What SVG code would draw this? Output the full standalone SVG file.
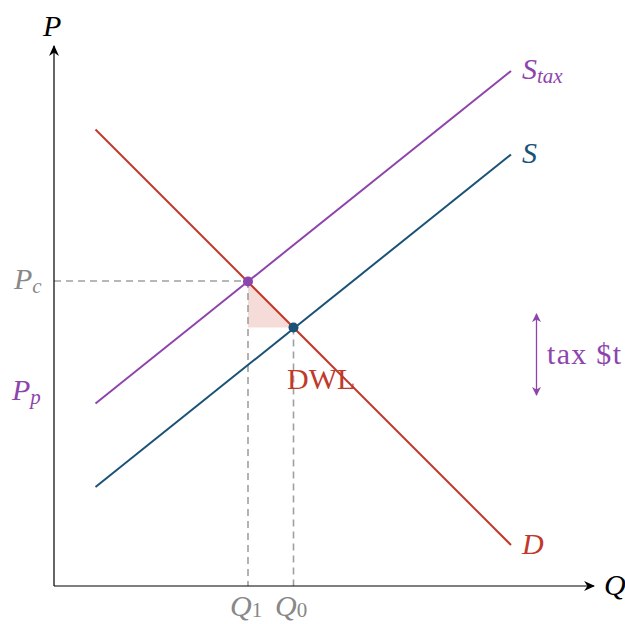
<svg xmlns="http://www.w3.org/2000/svg" width="625" height="624" viewBox="0 0 625 624">
<defs>
<style>
.lbl{font-family:"Liberation Serif","Times New Roman",serif;font-size:30px}
.it{font-style:italic}
.sub{font-size:21px}
.gray{fill:#888888}
.axis{stroke:#000;stroke-width:1.2;fill:none}
.dash{stroke:#a0a0a0;stroke-width:1.6;stroke-dasharray:7,5;fill:none}
</style>
<marker id="ah" viewBox="0 0 10 10" refX="9" refY="5" markerWidth="11" markerHeight="11" markerUnits="userSpaceOnUse" orient="auto-start-reverse">
<path d="M0,0.5 L10,5 L0,9.5 L3,5 Z" fill="#000"/>
</marker>
<marker id="ahp" viewBox="0 0 10 10" refX="9" refY="5" markerWidth="9" markerHeight="9" markerUnits="userSpaceOnUse" orient="auto-start-reverse">
<path d="M0,0 L10,5 L0,10 L3,5 Z" fill="#8e44ad"/>
</marker>
</defs>
<rect width="625" height="624" fill="#fff"/>
<g id="dwl"><polygon points="248,281 248,327.5 293.5,327.5" fill="#f5dcd9"/></g>
<g id="connectors">
<line class="dash" x1="54" y1="281" x2="248" y2="281"/>
<line class="dash" x1="248" y1="281" x2="248" y2="586"/>
<line class="dash" x1="293.5" y1="327.5" x2="293.5" y2="586"/>
<line class="axis" x1="54" y1="586" x2="54" y2="46" marker-end="url(#ah)"/>
<line class="axis" x1="54" y1="586" x2="594" y2="586" marker-end="url(#ah)"/>
<line x1="95.5" y1="129.5" x2="511" y2="545" stroke="#c0392b" stroke-width="2"/>
<line x1="95.5" y1="487" x2="511" y2="154.5" stroke="#1a5276" stroke-width="2"/>
<line x1="95.5" y1="403.5" x2="511" y2="71" stroke="#8e44ad" stroke-width="2"/>
<line x1="536.5" y1="314" x2="536.5" y2="395" stroke="#8e44ad" stroke-width="1.3" marker-start="url(#ahp)" marker-end="url(#ahp)"/>
</g>
<g id="points">
<circle cx="248" cy="281.5" r="5" fill="#8e44ad"/>
<circle cx="293.5" cy="327.5" r="5" fill="#1a5276"/>
</g>
<g id="labels">
<text class="lbl it" x="43" y="36">P</text>
<text class="lbl it" x="604" y="595">Q</text>
<text class="lbl it" x="522" y="79" fill="#8e44ad">S<tspan class="sub" dy="4">tax</tspan></text>
<text class="lbl it" x="522" y="163" fill="#1a5276">S</text>
<text class="lbl it" x="522" y="554" fill="#c0392b">D</text>
<text class="lbl it gray" x="14" y="289">P<tspan class="sub" dy="4">c</tspan></text>
<text class="lbl it" x="12" y="400" fill="#8e44ad">P<tspan class="sub" dy="4">p</tspan></text>
<text class="lbl it gray" x="230" y="616">Q<tspan class="sub" font-style="normal" font-size="20" dy="1">1</tspan></text>
<text class="lbl it gray" x="275" y="616">Q<tspan class="sub" font-style="normal" font-size="20" dy="1">0</tspan></text>
<text class="lbl" x="287" y="389" fill="#c0392b">DWL</text>
<text class="lbl" x="547" y="364" fill="#8e44ad" font-size="28" textLength="74">tax $t</text>
</g>
</svg>
